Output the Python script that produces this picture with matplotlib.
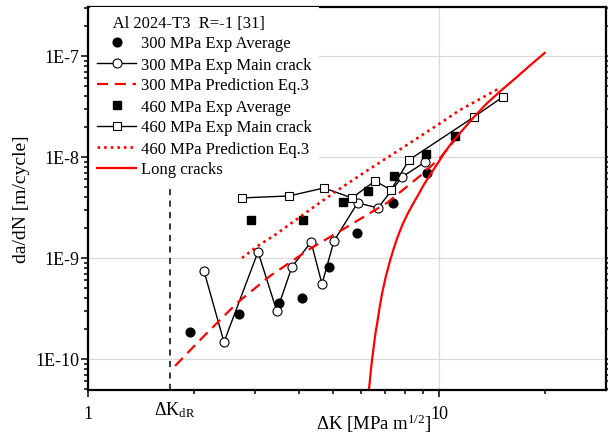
"""
    Curva da/dN - dK para Al 2024-T3 (R=-1), grietas cortas y largas
"""
import matplotlib
matplotlib.use('Agg')
import matplotlib.pyplot as plt
from matplotlib.ticker import LogLocator, NullFormatter
from matplotlib.transforms import blended_transform_factory

plt.rcParams['font.family'] = ['Liberation Serif', 'DejaVu Serif']
plt.rcParams['mathtext.fontset'] = 'custom'
plt.rcParams['mathtext.rm'] = 'Liberation Serif'
plt.rcParams['mathtext.it'] = 'Liberation Serif:italic'

# Datos
dk_300_avg = [1.95, 2.69, 3.50, 4.07, 4.86, 5.84, 7.39, 9.24]
dadn_300_avg = [1.85e-10, 2.79e-10, 3.58e-10, 4.02e-10, 8.15e-10, 1.77e-9, 3.51e-9, 6.95e-9]

dk_300_main = [2.14, 2.44, 3.05, 3.45, 3.81, 4.32, 4.64, 5.02, 5.86, 6.70, 7.85, 9.12]
dadn_300_main = [7.43e-10, 1.47e-10, 1.15e-9, 2.98e-10, 8.15e-10, 1.44e-9,
                 5.53e-10, 1.47e-9, 3.51e-9, 3.13e-9, 6.34e-9, 8.9e-9]

dk_300_pred = [1.770, 2.085, 2.658, 3.300, 4.290, 5.469, 7.108, 8.830, 10.07, 11.33]
dadn_300_pred = [8.53e-11, 1.54e-10, 3.58e-10, 6.63e-10, 1.23e-9, 2.03e-9,
                 3.51e-9, 6.49e-9, 9.77e-9, 1.61e-8]

dk_460_avg = [2.91, 4.10, 5.33, 6.28, 7.44, 9.18, 11.1]
dadn_460_avg = [2.38e-9, 2.38e-9, 3.58e-9, 4.61e-9, 6.49e-9, 1.07e-8, 1.61e-8]

dk_460_main = [2.75, 3.74, 4.70, 5.65, 6.57, 7.30, 8.21, 12.58, 15.2]
dadn_460_main = [3.93e-9, 4.11e-9, 4.93e-9, 3.93e-9, 5.78e-9, 4.71e-9, 9.33e-9, 2.49e-8, 3.93e-8]

dk_460_pred = [2.746, 3.050, 3.410, 4.018, 5.053, 6.154, 7.393, 9.244, 11.48, 14.92]
dadn_460_pred = [1.0e-9, 1.32e-9, 1.69e-9, 2.55e-9, 4.50e-9, 7.10e-9,
                 1.07e-8, 1.77e-8, 2.92e-8, 4.82e-8]

dk_long = [6.30, 6.35, 6.40, 6.46, 6.53, 6.60, 6.66, 6.77, 6.88, 7.05, 7.25, 7.45,
           7.64, 7.85, 8.11, 8.40, 8.72, 9.05, 9.42, 9.90, 10.4, 10.9, 11.47, 12.58,
           13.7, 14.92, 16.5, 18.2, 20.0]
dadn_long = [4.6e-11, 6.0e-11, 7.96e-11, 1.05e-10, 1.41e-10, 1.85e-10, 2.22e-10, 3.2e-10,
             4.41e-10, 6.5e-10, 9.34e-10, 1.28e-9, 1.65e-9, 2.1e-9, 2.67e-9, 3.35e-9,
             4.2e-9, 5.3e-9, 6.6e-9, 8.6e-9, 1.12e-8, 1.40e-8, 1.72e-8, 2.49e-8,
             3.4e-8, 4.45e-8, 6.0e-8, 8.1e-8, 1.07e-7]

dk_dr = 1.712
dk_dr_top = 5.8e-9

# Configuracion del grafico (608x435 px)
fig = plt.figure(figsize=(6.08, 4.35), dpi=100)
ax = fig.add_axes([88 / 608, 1 - 391 / 435, 518 / 608, 383 / 435])
ax.set_xscale('log')
ax.set_yscale('log')

ax.plot(dk_300_avg, dadn_300_avg, 'o', color='black', ms=6.3, label='300 MPa Exp Average')
ax.plot(dk_300_main, dadn_300_main, '-o', color='black', lw=1.0, ms=6.5,
        mfc='white', mec='black', mew=0.8, label='300 MPa Exp Main crack')
ax.plot(dk_300_pred, dadn_300_pred, color='red', lw=1.6, dashes=(5, 3),
        label='300 MPa Prediction Eq.3')
ax.plot(dk_460_avg, dadn_460_avg, 's', color='black', ms=5.8, label='460 MPa Exp Average')
ax.plot(dk_460_main, dadn_460_main, '-s', color='black', lw=1.0, ms=6,
        mfc='white', mec='black', mew=0.8, label='460 MPa Exp Main crack')
ax.plot(dk_460_pred, dadn_460_pred, color='red', lw=1.9, linestyle=(0, (1, 1.5)),
        label='460 MPa Prediction Eq.3')
ax.plot(dk_long, dadn_long, color='red', lw=1.6, label='Long cracks')

# Linea del umbral dK_dR
ax.plot([dk_dr, dk_dr], [4.9e-11, dk_dr_top], color='black', lw=1.1, dashes=(4, 3.5),
        label='_nolegend_')

ax.set_xlim(1, 29.9)
ax.set_ylim(4.93e-11, 3.05e-7)

ax.set_xticks([1, 10])
ax.set_xticklabels(['1', '10'])
ax.set_xticks([2, 3, 4, 5, 6, 7, 8, 9, 20], minor=True)
ax.xaxis.set_minor_formatter(NullFormatter())
ax.set_yticks([1e-10, 1e-9, 1e-8, 1e-7])
ax.set_yticklabels(['1E-10', '1E-9', '1E-8', '1E-7'])
ax.yaxis.set_minor_locator(LogLocator(base=10, subs=range(2, 10), numticks=20))
ax.yaxis.set_minor_formatter(NullFormatter())

ax.tick_params(which='both', direction='out', top=False, right=True, labelsize=13, width=1.1)
ax.tick_params(which='major', length=5)
ax.tick_params(which='minor', length=3)
ax.tick_params(axis='y', which='major', pad=1)
ax.tick_params(axis='x', which='major', pad=6)
for s in ax.spines.values():
    s.set_linewidth(1.6)

ax.grid(True, which='major', color='#dadada', linewidth=0.9)
ax.set_axisbelow(True)

# Etiquetas
ax.text(0.552, -0.101, 'ΔK [MPa m$^{1/2}$]', transform=ax.transAxes,
        ha='center', va='baseline', fontsize=13.5)
ax.text(-0.128, 0.5, 'da/dN [m/cycle]', transform=ax.transAxes, rotation=90,
        ha='center', va='center', fontsize=14)
trans = blended_transform_factory(ax.transData, ax.transAxes)
ax.text(1.77, -0.063, 'ΔK$_{\\mathrm{dR}}$', transform=trans, ha='center',
        va='baseline', fontsize=13)

leg = ax.legend(title='    Al 2024-T3  R=-1 [31]', loc='upper left', bbox_to_anchor=(0.003, 1),
                borderaxespad=0, borderpad=0.45, frameon=True, fancybox=False,
                edgecolor='none', facecolor='white', framealpha=1, fontsize=12,
                title_fontsize=12, handlelength=2.35, handletextpad=0.3,
                labelspacing=0.3, numpoints=1, alignment='left')

fig.savefig('out.png', dpi=100)
